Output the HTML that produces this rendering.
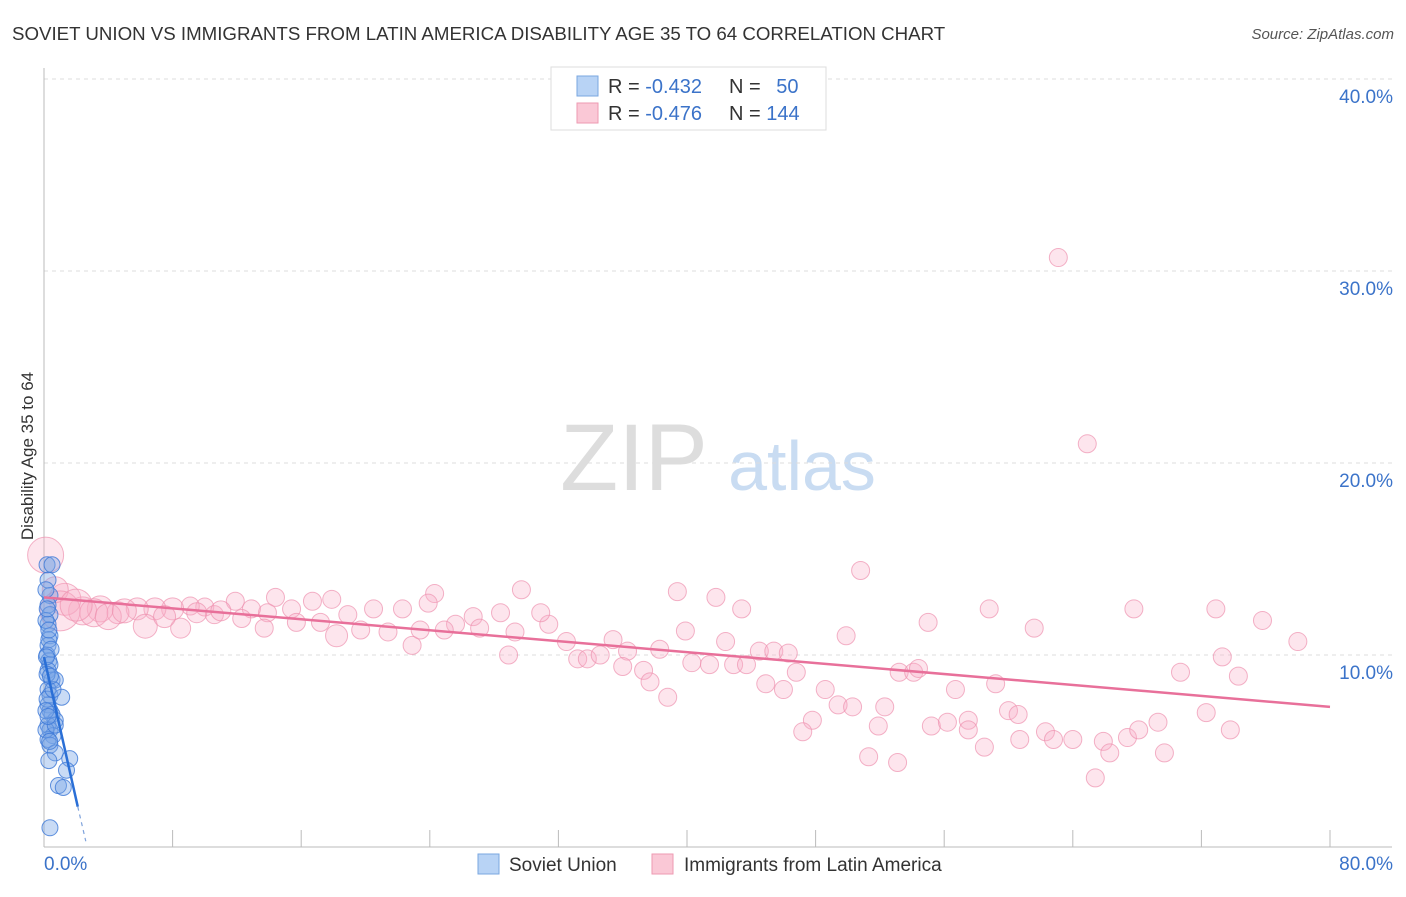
<!DOCTYPE html>
<html><head><meta charset="utf-8"><style>
body{margin:0;background:#fff;font-family:"Liberation Sans",sans-serif}
svg text{font-family:"Liberation Sans",sans-serif}
</style></head><body>
<svg id="c" width="1406" height="892" viewBox="0 0 1406 892">
<text x="12" y="40" font-size="18.7" fill="#333">SOVIET UNION VS IMMIGRANTS FROM LATIN AMERICA DISABILITY AGE 35 TO 64 CORRELATION CHART</text>
<text x="1394" y="39" font-size="15" fill="#555" text-anchor="end" font-style="italic">Source: ZipAtlas.com</text>
<text transform="translate(33,456) rotate(-90)" font-size="17" fill="#333" text-anchor="middle">Disability Age 35 to 64</text>
<g><text x="634" y="490" font-size="95" fill="#ddd" text-anchor="middle" font-family="Liberation Serif">ZIP</text><text x="802" y="490" font-size="70" fill="#c9dcf2" text-anchor="middle">atlas</text></g>
<g id="grid"></g><g id="axes"></g><g id="pts"></g><g id="lines"></g>
<g>
<rect x="551" y="67" width="275" height="63" fill="#fff" stroke="#ddd"/>
<rect x="577" y="76" width="21" height="20" fill="#b8d3f5" stroke="#7aa7e0"/>
<rect x="577" y="103" width="21" height="20" fill="#fac8d6" stroke="#ee9ab2"/>
<text x="608" y="93" font-size="20" fill="#333">R = <tspan fill="#3b73c9">-0.432</tspan></text>
<text x="729" y="93" font-size="20" fill="#333">N = <tspan fill="#3b73c9" dx="10">50</tspan></text>
<text x="608" y="120" font-size="20" fill="#333">R = <tspan fill="#3b73c9">-0.476</tspan></text>
<text x="729" y="120" font-size="20" fill="#333">N = <tspan fill="#3b73c9">144</tspan></text>
</g>
<g>
<rect x="478" y="854" width="21" height="20" fill="#b8d3f5" stroke="#7aa7e0"/>
<text x="509" y="871" font-size="19" fill="#333">Soviet Union</text>
<rect x="652" y="854" width="21" height="20" fill="#fac8d6" stroke="#ee9ab2"/>
<text x="684" y="871" font-size="19" fill="#333">Immigrants from Latin America</text>
</g>
</svg>
<script>
const yTicks=[10,20,30,40];
const yTickLabels=["10.0%","20.0%","30.0%","40.0%"];
const xTicks=[0,8,16,24,32,40,48,56,64,72,80];
const xEndLabels=["0.0%","80.0%"];
const blueX=[0.19,0.5,0.25,0.37,0.25,0.37,0.25,0.37,0.25,0.19,0.3,0.37,0.25,0.5,0.7,0.25,0.37,1.1,0.25,0.37,0.5,0.7,0.25,0.37,0.56,0.25,0.37,0.7,1.6,1.4,0.9,1.2,0.37,0.12,0.3,0.44,0.19,0.12,0.3,0.12,0.19,0.56,0.12,0.7,0.2,0.3,0.15,0.4,0.25,0.35];
const blueY=[14.7,14.7,13.9,13.1,12.6,12.1,11.6,11.0,10.5,10.0,9.7,9.5,9.2,8.7,8.7,8.2,7.9,7.8,7.4,7.1,6.9,6.6,6.35,6.1,5.8,5.6,5.3,4.9,4.6,4.0,3.2,3.1,1.0,11.8,10.8,10.3,7.7,6.1,4.5,13.4,9.0,8.2,7.1,6.35,12.4,11.3,9.9,8.9,6.8,5.5];
const pinkX=[63.1,64.9,50.8,39.4,41.8,29.7,24.3,14.4,11.9,43.4,58.8,67.8,72.9,75.8,78.0,55.0,61.6,49.9,39.9,42.4,35.4,38.3,36.3,32.5,31.4,28.4,30.9,26.7,25.6,22.3,23.9,20.5,18.9,17.9,16.7,15.4,13.9,12.9,10.0,9.1,8.0,6.9,5.8,4.6,3.5,2.4,1.3,0.7,0.1,1.0,3.1,6.3,8.5,10.6,12.3,13.7,15.7,17.2,18.2,19.7,21.4,22.9,23.4,24.9,27.1,28.9,29.3,33.2,33.8,34.6,36.0,37.3,37.7,38.8,40.3,41.4,42.9,43.7,44.5,45.4,46.3,44.9,46.0,46.8,48.6,47.8,47.2,49.4,50.3,51.3,51.9,52.3,53.1,53.2,54.1,54.4,55.2,56.2,56.7,57.5,57.5,58.5,59.2,60.0,60.6,60.7,62.3,62.8,64.0,65.4,65.9,66.3,67.4,68.1,69.3,69.7,70.7,72.3,73.3,73.8,74.3,2.0,4.0,5.0,7.5,9.5,11.0];
const pinkY=[30.7,21.0,14.4,13.3,13.0,13.4,13.2,13.0,12.8,12.4,12.4,12.4,12.4,11.8,10.7,11.7,11.4,11.0,11.25,10.7,10.8,10.3,10.2,10.7,11.6,12.2,12.2,12.0,11.6,12.4,12.7,12.4,12.1,12.9,12.8,12.4,12.2,12.4,12.5,12.55,12.4,12.4,12.4,12.2,12.4,12.3,12.9,13.4,15.2,12.3,12.2,11.5,11.4,12.1,11.9,11.4,11.7,11.7,11.0,11.3,11.2,10.5,11.3,11.3,11.4,10.0,11.2,9.8,9.8,10.0,9.4,9.2,8.6,7.8,9.6,9.5,9.5,9.5,10.2,10.2,10.1,8.5,8.2,9.1,8.2,6.6,6.0,7.4,7.3,4.7,6.3,7.3,4.4,9.1,9.1,9.3,6.3,6.5,8.2,6.6,6.1,5.2,8.5,7.1,6.9,5.6,6.0,5.6,5.6,3.6,5.5,4.9,5.7,6.1,6.5,4.9,9.1,7.0,9.9,6.1,8.9,12.6,12.0,12.3,12.0,12.2,12.3];
const pinkR=[9,9,9,9,9,9,9,9,9,9,9,9,9,9,9,9,9,9,9,9,9,9,9,9,9,9,9,9,9,9,9,9,9,9,9,9,9,9,9,9,11,11,11,11,13,14,16,13,18,20,14,12,10,9,9,9,9,9,11,9,9,9,9,9,9,9,9,9,9,9,9,9,9,9,9,9,9,9,9,9,9,9,9,9,9,9,9,9,9,9,9,9,9,9,9,9,9,9,9,9,9,9,9,9,9,9,9,9,9,9,9,9,9,9,9,9,9,9,9,9,9,16,13,12,11,10,10];
const blueLine=[[0,9.9],[2.1,2.1]];
const blueDash=[[2.1,2.1],[2.6,0.3]];
const pinkLine=[[0,13.0],[80,7.3]];
const NS="http://www.w3.org/2000/svg";
const X=v=>44+v*16.075, Y=v=>847-v*19.2;
function mk(p,t,a){const e=document.createElementNS(NS,t);for(const k in a)e.setAttribute(k,a[k]);document.getElementById(p).appendChild(e);return e;}
yTicks.forEach((t,i)=>{
 const g=mk('grid','line',{x1:44,x2:1392,y1:Y(t),y2:Y(t),stroke:'#ddd','stroke-dasharray':'4,4'});
 
 
 const l=mk('grid','text',{x:1393,y:Y(t)+24,'text-anchor':'end','font-size':19,fill:'#3b73c9'});l.textContent=yTickLabels[i];
 
 
});
const ax=mk('axes','line',{x1:44,x2:44,y1:68,y2:847,stroke:'#bbb'});


const bx=mk('axes','line',{x1:44,x2:1392,y1:847,y2:847,stroke:'#bbb'});


xTicks.forEach(t=>{const k=mk('axes','line',{x1:X(t),x2:X(t),y1:830,y2:847,stroke:'#bbb'});
 
 });
[[0,'start'],[80,'end']].forEach((p,i)=>{const t=mk('axes','text',{x:i?1393:44,y:870,'text-anchor':p[1],'font-size':19,fill:'#3b73c9'});t.textContent=xEndLabels[i];
 
 });
pinkX.forEach((x,i)=>{const c=mk('pts','circle',{cx:X(x),cy:Y(pinkY[i]),r:pinkR[i],fill:'rgba(248,175,198,0.32)',stroke:'rgba(238,145,175,0.7)','stroke-width':1});
 
 });
blueX.forEach((x,i)=>{const c=mk('pts','circle',{cx:X(x),cy:Y(blueY[i]),r:8,fill:'rgba(120,165,230,0.4)',stroke:'rgba(60,120,215,0.8)','stroke-width':1});
 
 });
const pl=mk('lines','line',{x1:X(pinkLine[0][0]),y1:Y(pinkLine[0][1]),x2:X(pinkLine[1][0]),y2:Y(pinkLine[1][1]),stroke:'#e8709a','stroke-width':2.5});


const bl=mk('lines','line',{x1:X(blueLine[0][0]),y1:Y(blueLine[0][1]),x2:X(blueLine[1][0]),y2:Y(blueLine[1][1]),stroke:'#2a6fd6','stroke-width':2.5});


const bd=mk('lines','line',{x1:X(blueDash[0][0]),y1:Y(blueDash[0][1]),x2:X(blueDash[1][0]),y2:Y(blueDash[1][1]),stroke:'#7fa3dc','stroke-width':1.2,'stroke-dasharray':'4,4'});


</script>
</body></html>
